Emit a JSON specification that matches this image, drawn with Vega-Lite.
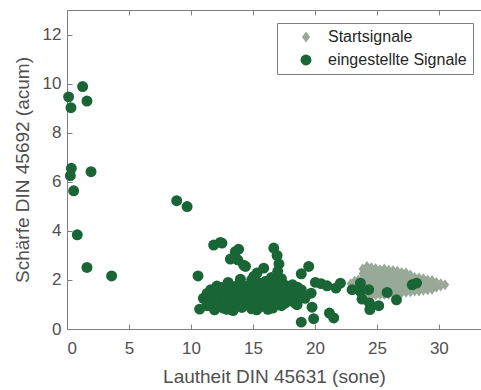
{
  "$schema": "https://vega.github.io/schema/vega-lite/v6.json",
  "width": 414,
  "height": 319,
  "autosize": "none",
  "padding": {"left": 67, "top": 10, "right": 0, "bottom": 61},
  "background": "white",
  "config": {
    "view": {"stroke": "#808080", "strokeWidth": 1},
    "font": "Liberation Sans",
    "axis": {
      "domainColor": "#808080",
      "tickColor": "#808080",
      "labelColor": "#505050",
      "titleColor": "#505050",
      "labelFont": "Liberation Sans",
      "titleFont": "Liberation Sans",
      "labelFontSize": 17,
      "titleFontSize": 19,
      "titleFontWeight": "normal",
      "grid": false,
      "tickSize": -5
    }
  },
  "datasets": {
    "pts": [
      {"signal": "Startsignale", "x": 22.9, "y": 1.85},
      {"signal": "Startsignale", "x": 23.2, "y": 1.75},
      {"signal": "Startsignale", "x": 23.2, "y": 1.95},
      {"signal": "Startsignale", "x": 23.5, "y": 1.65},
      {"signal": "Startsignale", "x": 23.5, "y": 1.85},
      {"signal": "Startsignale", "x": 23.5, "y": 2.0},
      {"signal": "Startsignale", "x": 23.85, "y": 1.45},
      {"signal": "Startsignale", "x": 23.85, "y": 1.65},
      {"signal": "Startsignale", "x": 23.85, "y": 1.85},
      {"signal": "Startsignale", "x": 23.85, "y": 2.05},
      {"signal": "Startsignale", "x": 23.85, "y": 2.25},
      {"signal": "Startsignale", "x": 23.85, "y": 2.45},
      {"signal": "Startsignale", "x": 24.2, "y": 1.35},
      {"signal": "Startsignale", "x": 24.2, "y": 1.55},
      {"signal": "Startsignale", "x": 24.2, "y": 1.75},
      {"signal": "Startsignale", "x": 24.2, "y": 1.95},
      {"signal": "Startsignale", "x": 24.2, "y": 2.15},
      {"signal": "Startsignale", "x": 24.2, "y": 2.35},
      {"signal": "Startsignale", "x": 24.2, "y": 2.55},
      {"signal": "Startsignale", "x": 24.55, "y": 1.35},
      {"signal": "Startsignale", "x": 24.55, "y": 1.55},
      {"signal": "Startsignale", "x": 24.55, "y": 1.75},
      {"signal": "Startsignale", "x": 24.55, "y": 1.95},
      {"signal": "Startsignale", "x": 24.55, "y": 2.15},
      {"signal": "Startsignale", "x": 24.55, "y": 2.35},
      {"signal": "Startsignale", "x": 24.55, "y": 2.5},
      {"signal": "Startsignale", "x": 24.9, "y": 1.38},
      {"signal": "Startsignale", "x": 24.9, "y": 1.58},
      {"signal": "Startsignale", "x": 24.9, "y": 1.78},
      {"signal": "Startsignale", "x": 24.9, "y": 1.98},
      {"signal": "Startsignale", "x": 24.9, "y": 2.18},
      {"signal": "Startsignale", "x": 24.9, "y": 2.38},
      {"signal": "Startsignale", "x": 24.9, "y": 2.47},
      {"signal": "Startsignale", "x": 25.25, "y": 1.4},
      {"signal": "Startsignale", "x": 25.25, "y": 1.6},
      {"signal": "Startsignale", "x": 25.25, "y": 1.8},
      {"signal": "Startsignale", "x": 25.25, "y": 2.0},
      {"signal": "Startsignale", "x": 25.25, "y": 2.2},
      {"signal": "Startsignale", "x": 25.25, "y": 2.42},
      {"signal": "Startsignale", "x": 25.6, "y": 1.4},
      {"signal": "Startsignale", "x": 25.6, "y": 1.6},
      {"signal": "Startsignale", "x": 25.6, "y": 1.8},
      {"signal": "Startsignale", "x": 25.6, "y": 2.0},
      {"signal": "Startsignale", "x": 25.6, "y": 2.2},
      {"signal": "Startsignale", "x": 25.6, "y": 2.45},
      {"signal": "Startsignale", "x": 25.95, "y": 1.42},
      {"signal": "Startsignale", "x": 25.95, "y": 1.62},
      {"signal": "Startsignale", "x": 25.95, "y": 1.82},
      {"signal": "Startsignale", "x": 25.95, "y": 2.02},
      {"signal": "Startsignale", "x": 25.95, "y": 2.22},
      {"signal": "Startsignale", "x": 25.95, "y": 2.4},
      {"signal": "Startsignale", "x": 26.3, "y": 1.45},
      {"signal": "Startsignale", "x": 26.3, "y": 1.65},
      {"signal": "Startsignale", "x": 26.3, "y": 1.85},
      {"signal": "Startsignale", "x": 26.3, "y": 2.05},
      {"signal": "Startsignale", "x": 26.3, "y": 2.25},
      {"signal": "Startsignale", "x": 26.3, "y": 2.38},
      {"signal": "Startsignale", "x": 26.65, "y": 1.45},
      {"signal": "Startsignale", "x": 26.65, "y": 1.65},
      {"signal": "Startsignale", "x": 26.65, "y": 1.85},
      {"signal": "Startsignale", "x": 26.65, "y": 2.05},
      {"signal": "Startsignale", "x": 26.65, "y": 2.25},
      {"signal": "Startsignale", "x": 26.65, "y": 2.35},
      {"signal": "Startsignale", "x": 27.0, "y": 1.48},
      {"signal": "Startsignale", "x": 27.0, "y": 1.68},
      {"signal": "Startsignale", "x": 27.0, "y": 1.88},
      {"signal": "Startsignale", "x": 27.0, "y": 2.08},
      {"signal": "Startsignale", "x": 27.0, "y": 2.3},
      {"signal": "Startsignale", "x": 27.35, "y": 1.5},
      {"signal": "Startsignale", "x": 27.35, "y": 1.7},
      {"signal": "Startsignale", "x": 27.35, "y": 1.9},
      {"signal": "Startsignale", "x": 27.35, "y": 2.1},
      {"signal": "Startsignale", "x": 27.35, "y": 2.28},
      {"signal": "Startsignale", "x": 27.7, "y": 1.52},
      {"signal": "Startsignale", "x": 27.7, "y": 1.72},
      {"signal": "Startsignale", "x": 27.7, "y": 1.92},
      {"signal": "Startsignale", "x": 27.7, "y": 2.12},
      {"signal": "Startsignale", "x": 27.7, "y": 2.2},
      {"signal": "Startsignale", "x": 28.05, "y": 1.55},
      {"signal": "Startsignale", "x": 28.05, "y": 1.75},
      {"signal": "Startsignale", "x": 28.05, "y": 1.95},
      {"signal": "Startsignale", "x": 28.05, "y": 2.1},
      {"signal": "Startsignale", "x": 28.4, "y": 1.55},
      {"signal": "Startsignale", "x": 28.4, "y": 1.75},
      {"signal": "Startsignale", "x": 28.4, "y": 1.95},
      {"signal": "Startsignale", "x": 28.4, "y": 2.08},
      {"signal": "Startsignale", "x": 28.75, "y": 1.58},
      {"signal": "Startsignale", "x": 28.75, "y": 1.78},
      {"signal": "Startsignale", "x": 28.75, "y": 1.98},
      {"signal": "Startsignale", "x": 28.75, "y": 2.05},
      {"signal": "Startsignale", "x": 29.1, "y": 1.6},
      {"signal": "Startsignale", "x": 29.1, "y": 1.8},
      {"signal": "Startsignale", "x": 29.1, "y": 2.0},
      {"signal": "Startsignale", "x": 29.45, "y": 1.62},
      {"signal": "Startsignale", "x": 29.45, "y": 1.82},
      {"signal": "Startsignale", "x": 29.45, "y": 1.98},
      {"signal": "Startsignale", "x": 29.8, "y": 1.7},
      {"signal": "Startsignale", "x": 29.8, "y": 1.9},
      {"signal": "Startsignale", "x": 30.15, "y": 1.75},
      {"signal": "Startsignale", "x": 30.15, "y": 1.85},
      {"signal": "Startsignale", "x": 30.5, "y": 1.8},

      {"signal": "eingestellte Signale", "x": 0.13, "y": 9.46},
      {"signal": "eingestellte Signale", "x": 1.26, "y": 9.88},
      {"signal": "eingestellte Signale", "x": 0.32, "y": 9.02},
      {"signal": "eingestellte Signale", "x": 1.61, "y": 9.29},
      {"signal": "eingestellte Signale", "x": 0.35, "y": 6.55},
      {"signal": "eingestellte Signale", "x": 0.27, "y": 6.25},
      {"signal": "eingestellte Signale", "x": 1.94, "y": 6.41},
      {"signal": "eingestellte Signale", "x": 0.54, "y": 5.63},
      {"signal": "eingestellte Signale", "x": 0.83, "y": 3.84},
      {"signal": "eingestellte Signale", "x": 1.61, "y": 2.51},
      {"signal": "eingestellte Signale", "x": 3.6, "y": 2.16},
      {"signal": "eingestellte Signale", "x": 8.85, "y": 5.23},
      {"signal": "eingestellte Signale", "x": 9.69, "y": 4.99},
      {"signal": "eingestellte Signale", "x": 10.57, "y": 2.16},
      {"signal": "eingestellte Signale", "x": 11.83, "y": 3.42},
      {"signal": "eingestellte Signale", "x": 12.37, "y": 3.53},
      {"signal": "eingestellte Signale", "x": 12.5, "y": 3.5},
      {"signal": "eingestellte Signale", "x": 13.58, "y": 3.15},
      {"signal": "eingestellte Signale", "x": 13.85, "y": 3.25},
      {"signal": "eingestellte Signale", "x": 13.18, "y": 2.85},
      {"signal": "eingestellte Signale", "x": 13.77, "y": 2.82},
      {"signal": "eingestellte Signale", "x": 14.25, "y": 2.6},
      {"signal": "eingestellte Signale", "x": 14.4, "y": 2.55},
      {"signal": "eingestellte Signale", "x": 13.99, "y": 2.03},
      {"signal": "eingestellte Signale", "x": 15.07, "y": 2.14},
      {"signal": "eingestellte Signale", "x": 15.33, "y": 2.28},
      {"signal": "eingestellte Signale", "x": 15.87, "y": 2.48},
      {"signal": "eingestellte Signale", "x": 16.0, "y": 1.94},
      {"signal": "eingestellte Signale", "x": 16.68, "y": 3.3},
      {"signal": "eingestellte Signale", "x": 16.95, "y": 3.0},
      {"signal": "eingestellte Signale", "x": 17.1, "y": 2.65},
      {"signal": "eingestellte Signale", "x": 17.0, "y": 2.35},
      {"signal": "eingestellte Signale", "x": 17.3, "y": 2.05},
      {"signal": "eingestellte Signale", "x": 10.7, "y": 0.81},
      {"signal": "eingestellte Signale", "x": 11.9, "y": 0.78},
      {"signal": "eingestellte Signale", "x": 12.6, "y": 0.85},
      {"signal": "eingestellte Signale", "x": 13.4, "y": 0.75},
      {"signal": "eingestellte Signale", "x": 14.1, "y": 0.88},
      {"signal": "eingestellte Signale", "x": 14.9, "y": 0.82},
      {"signal": "eingestellte Signale", "x": 15.6, "y": 0.9},
      {"signal": "eingestellte Signale", "x": 16.6, "y": 0.85},
      {"signal": "eingestellte Signale", "x": 17.3, "y": 0.95},
      {"signal": "eingestellte Signale", "x": 11.5, "y": 1.1},
      {"signal": "eingestellte Signale", "x": 12.2, "y": 1.0},
      {"signal": "eingestellte Signale", "x": 12.9, "y": 1.05},
      {"signal": "eingestellte Signale", "x": 13.7, "y": 1.0},
      {"signal": "eingestellte Signale", "x": 14.5, "y": 1.1},
      {"signal": "eingestellte Signale", "x": 15.2, "y": 1.05},
      {"signal": "eingestellte Signale", "x": 16.0, "y": 1.0},
      {"signal": "eingestellte Signale", "x": 16.8, "y": 1.1},
      {"signal": "eingestellte Signale", "x": 17.6, "y": 1.05},
      {"signal": "eingestellte Signale", "x": 18.4, "y": 1.05},
      {"signal": "eingestellte Signale", "x": 11.0, "y": 1.25},
      {"signal": "eingestellte Signale", "x": 11.8, "y": 1.35},
      {"signal": "eingestellte Signale", "x": 12.5, "y": 1.3},
      {"signal": "eingestellte Signale", "x": 13.2, "y": 1.35},
      {"signal": "eingestellte Signale", "x": 14.0, "y": 1.3},
      {"signal": "eingestellte Signale", "x": 14.7, "y": 1.4},
      {"signal": "eingestellte Signale", "x": 15.5, "y": 1.3},
      {"signal": "eingestellte Signale", "x": 16.2, "y": 1.35},
      {"signal": "eingestellte Signale", "x": 17.0, "y": 1.3},
      {"signal": "eingestellte Signale", "x": 17.8, "y": 1.3},
      {"signal": "eingestellte Signale", "x": 18.5, "y": 1.35},
      {"signal": "eingestellte Signale", "x": 19.2, "y": 1.25},
      {"signal": "eingestellte Signale", "x": 11.6, "y": 1.6},
      {"signal": "eingestellte Signale", "x": 12.3, "y": 1.55},
      {"signal": "eingestellte Signale", "x": 13.0, "y": 1.6},
      {"signal": "eingestellte Signale", "x": 13.8, "y": 1.55},
      {"signal": "eingestellte Signale", "x": 14.6, "y": 1.6},
      {"signal": "eingestellte Signale", "x": 15.3, "y": 1.65},
      {"signal": "eingestellte Signale", "x": 16.0, "y": 1.55},
      {"signal": "eingestellte Signale", "x": 16.8, "y": 1.6},
      {"signal": "eingestellte Signale", "x": 17.5, "y": 1.6},
      {"signal": "eingestellte Signale", "x": 18.2, "y": 1.55},
      {"signal": "eingestellte Signale", "x": 18.9, "y": 1.6},
      {"signal": "eingestellte Signale", "x": 12.1, "y": 1.75},
      {"signal": "eingestellte Signale", "x": 13.4, "y": 1.72},
      {"signal": "eingestellte Signale", "x": 14.3, "y": 1.75},
      {"signal": "eingestellte Signale", "x": 14.9, "y": 1.8},
      {"signal": "eingestellte Signale", "x": 15.8, "y": 1.85},
      {"signal": "eingestellte Signale", "x": 16.9, "y": 1.8},
      {"signal": "eingestellte Signale", "x": 17.8, "y": 1.75},
      {"signal": "eingestellte Signale", "x": 18.6, "y": 1.7},
      {"signal": "eingestellte Signale", "x": 16.9, "y": 1.95},
      {"signal": "eingestellte Signale", "x": 14.9, "y": 2.0},
      {"signal": "eingestellte Signale", "x": 16.5, "y": 2.1},
      {"signal": "eingestellte Signale", "x": 11.3, "y": 0.95},
      {"signal": "eingestellte Signale", "x": 12.0, "y": 1.15},
      {"signal": "eingestellte Signale", "x": 12.8, "y": 1.2},
      {"signal": "eingestellte Signale", "x": 13.5, "y": 1.15},
      {"signal": "eingestellte Signale", "x": 14.3, "y": 1.2},
      {"signal": "eingestellte Signale", "x": 15.0, "y": 1.25},
      {"signal": "eingestellte Signale", "x": 15.8, "y": 1.15},
      {"signal": "eingestellte Signale", "x": 16.5, "y": 1.25},
      {"signal": "eingestellte Signale", "x": 17.3, "y": 1.2},
      {"signal": "eingestellte Signale", "x": 18.0, "y": 1.15},
      {"signal": "eingestellte Signale", "x": 11.3, "y": 1.45},
      {"signal": "eingestellte Signale", "x": 12.0, "y": 1.45},
      {"signal": "eingestellte Signale", "x": 12.8, "y": 1.45},
      {"signal": "eingestellte Signale", "x": 13.5, "y": 1.45},
      {"signal": "eingestellte Signale", "x": 14.3, "y": 1.45},
      {"signal": "eingestellte Signale", "x": 15.0, "y": 1.5},
      {"signal": "eingestellte Signale", "x": 15.8, "y": 1.45},
      {"signal": "eingestellte Signale", "x": 16.5, "y": 1.45},
      {"signal": "eingestellte Signale", "x": 17.3, "y": 1.45},
      {"signal": "eingestellte Signale", "x": 18.0, "y": 1.45},
      {"signal": "eingestellte Signale", "x": 12.6, "y": 1.7},
      {"signal": "eingestellte Signale", "x": 13.9, "y": 1.85},
      {"signal": "eingestellte Signale", "x": 15.4, "y": 1.9},
      {"signal": "eingestellte Signale", "x": 16.3, "y": 1.75},
      {"signal": "eingestellte Signale", "x": 17.4, "y": 1.85},
      {"signal": "eingestellte Signale", "x": 18.2, "y": 1.8},
      {"signal": "eingestellte Signale", "x": 12.9, "y": 0.8},
      {"signal": "eingestellte Signale", "x": 15.3, "y": 0.78},
      {"signal": "eingestellte Signale", "x": 16.2, "y": 0.8},
      {"signal": "eingestellte Signale", "x": 13.0, "y": 1.9},
      {"signal": "eingestellte Signale", "x": 14.0, "y": 1.65},
      {"signal": "eingestellte Signale", "x": 18.9, "y": 2.25},
      {"signal": "eingestellte Signale", "x": 19.5, "y": 2.55},
      {"signal": "eingestellte Signale", "x": 18.69, "y": 1.53},
      {"signal": "eingestellte Signale", "x": 18.56, "y": 0.99},
      {"signal": "eingestellte Signale", "x": 19.77, "y": 0.89},
      {"signal": "eingestellte Signale", "x": 19.9, "y": 0.42},
      {"signal": "eingestellte Signale", "x": 18.9, "y": 0.28},
      {"signal": "eingestellte Signale", "x": 19.7, "y": 1.46},
      {"signal": "eingestellte Signale", "x": 20.04, "y": 1.9},
      {"signal": "eingestellte Signale", "x": 20.5, "y": 1.85},
      {"signal": "eingestellte Signale", "x": 20.98, "y": 1.76},
      {"signal": "eingestellte Signale", "x": 21.17, "y": 0.65},
      {"signal": "eingestellte Signale", "x": 21.52, "y": 0.45},
      {"signal": "eingestellte Signale", "x": 21.7, "y": 1.67},
      {"signal": "eingestellte Signale", "x": 22.06, "y": 1.87},
      {"signal": "eingestellte Signale", "x": 23.0, "y": 1.6},
      {"signal": "eingestellte Signale", "x": 23.67, "y": 1.87},
      {"signal": "eingestellte Signale", "x": 23.67, "y": 1.53},
      {"signal": "eingestellte Signale", "x": 23.8, "y": 1.22},
      {"signal": "eingestellte Signale", "x": 24.34, "y": 1.6},
      {"signal": "eingestellte Signale", "x": 24.4, "y": 1.06},
      {"signal": "eingestellte Signale", "x": 24.43, "y": 0.79},
      {"signal": "eingestellte Signale", "x": 25.15, "y": 0.95},
      {"signal": "eingestellte Signale", "x": 25.83, "y": 1.49},
      {"signal": "eingestellte Signale", "x": 26.58, "y": 1.19},
      {"signal": "eingestellte Signale", "x": 27.85, "y": 1.8},
      {"signal": "eingestellte Signale", "x": 28.2, "y": 1.87}
    ]
  },
  "data": {"name": "pts"},
  "layer": [
    {
      "mark": {"type": "point", "filled": true, "opacity": 1, "size": 120, "strokeWidth": 0},
      "encoding": {
        "x": {
          "field": "x", "type": "quantitative",
          "scale": {"domain": [0, 33.4], "nice": false, "zero": false},
          "axis": {"values": [0, 5, 10, 15, 20, 25, 30], "title": "Lautheit DIN 45631 (sone)", "labelPadding": 16, "titlePadding": 11}
        },
        "y": {
          "field": "y", "type": "quantitative",
          "scale": {"domain": [0, 13], "nice": false},
          "axis": {"values": [0, 2, 4, 6, 8, 10, 12], "title": "Schärfe DIN 45692 (acum)", "labelPadding": 11, "titlePadding": 10}
        },
        "color": {
          "field": "signal", "type": "nominal",
          "scale": {"domain": ["Startsignale", "eingestellte Signale"], "range": ["#99a998", "#1a6535"]},
          "legend": {"orient": "none", "legendX": 210, "legendY": 13, "title": null, "strokeColor": "#7f7f7f", "fillColor": "white", "padding": 6, "labelFontSize": 16, "labelColor": "#262626", "labelFont": "Liberation Sans", "symbolSize": 120, "rowPadding": 7, "labelOffset": 14, "symbolOffset": 15, "cornerRadius": 0}
        },
        "shape": {
          "field": "signal", "type": "nominal",
          "scale": {"domain": ["Startsignale", "eingestellte Signale"], "range": ["M0,-1L0.75,0L0,1L-0.75,0Z", "circle"]},
          "legend": {"orient": "none", "legendX": 210, "legendY": 13, "title": null, "strokeColor": "#7f7f7f", "fillColor": "white", "padding": 6, "labelFontSize": 16, "labelColor": "#262626", "labelFont": "Liberation Sans", "symbolSize": 120, "rowPadding": 7, "labelOffset": 14, "symbolOffset": 15, "cornerRadius": 0}
        }
      }
    },
    {
      "mark": {"type": "point", "opacity": 0},
      "encoding": {
        "x": {"field": "x", "type": "quantitative", "axis": {"orient": "top", "labels": false, "domain": false, "title": null, "values": [0, 5, 10, 15, 20, 25, 30]}},
        "y": {"field": "y", "type": "quantitative"}
      }
    }
  ],
  "resolve": {"axis": {"x": "independent"}}
}
